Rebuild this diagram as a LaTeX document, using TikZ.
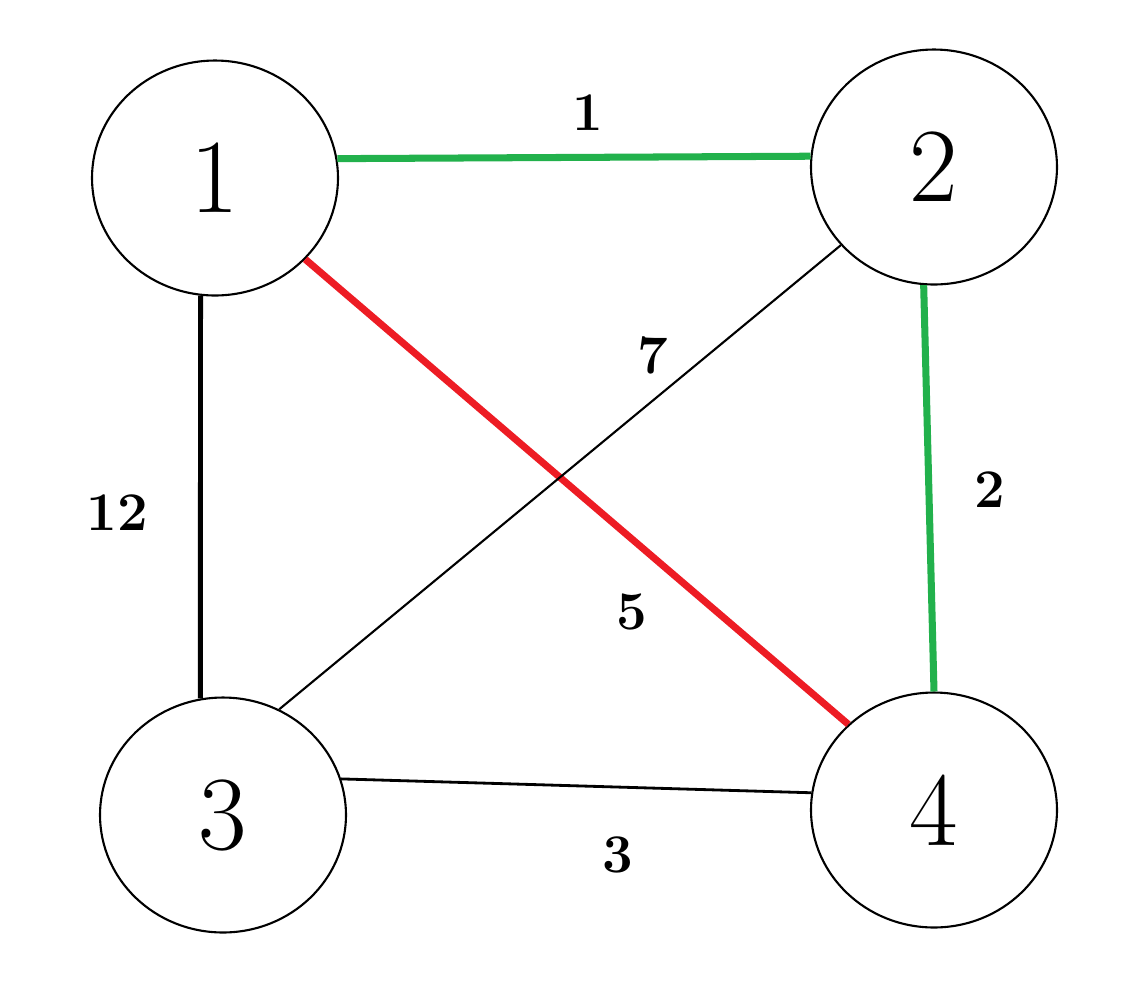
\documentclass[tikz,border=0pt]{standalone}
\usepackage{xcolor}
\usetikzlibrary{shapes.geometric}
\definecolor{treegreen}{RGB}{34,177,76}
\definecolor{cutred}{RGB}{237,28,36}
\tikzset{
  vertex/.style={draw=black, ellipse, line width=1.2pt, inner sep=0pt,
    minimum width=4.92cm, minimum height=4.7cm, font=\fontsize{60}{64}\selectfont},
  weight/.style={font=\fontsize{31}{34}\selectfont\bfseries},
  chosen/.style={line width=4pt, treegreen},
  rejected/.style={line width=4pt, cutred},
  heavy/.style={line width=2.8pt, black},
  plain/.style={line width=1.2pt, black}
}

\begin{document}
\begin{tikzpicture}[x=0.02cm, y=-0.02cm]
  \useasboundingbox (0,0) rectangle (1144,992);

  \node[vertex] (n1) at (215,178) {1};
  \node[vertex] (n2) at (934,167) {2};
  \node[vertex] (n3) at (223,815) {3};
  \node[vertex] (n4) at (934,810) {4};

  \draw[chosen] (n1.9) -- (n2.175);
  \draw[chosen] (n2.265) -- (n4.90);
  \draw[rejected] (n1.-42) -- (n4.135);
  \draw[plain] (n2.220) -- (n3.62);
  \draw[heavy] (n1.263) -- (n3.101);
  \draw[plain, line width=1.6pt] (n3.17) -- (n4.172);

  \node[weight] (w12) at (588,113) {1};
  \node[weight] (w24) at (990,490) {2};
  \node[weight] (w34) at (618,855) {3};
  \node[weight] (w14) at (632,612) {5};
  \node[weight] (w23) at (653,355) {7};
  \node[weight] (w13) at (117,513) {12};
\end{tikzpicture}
\end{document}
